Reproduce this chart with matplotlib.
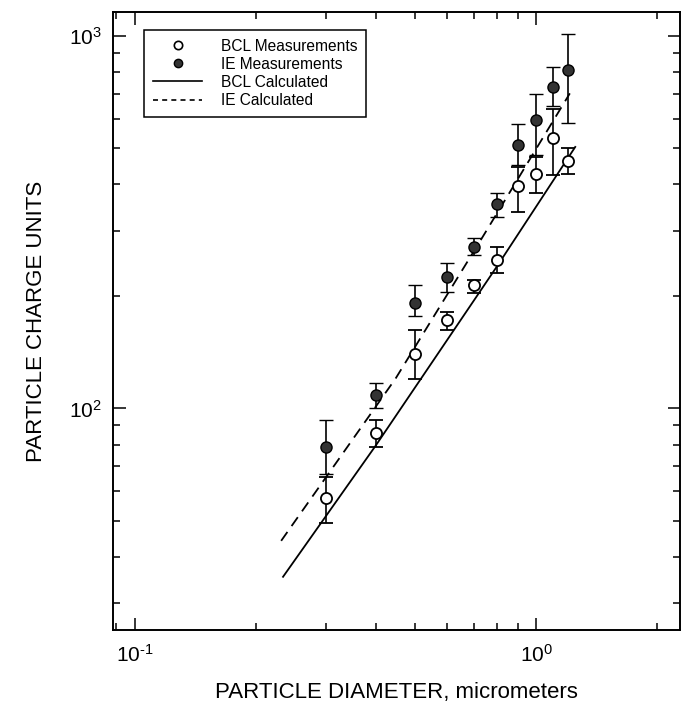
import math
import matplotlib
matplotlib.use("Agg")
import matplotlib.pyplot as plt
from matplotlib.lines import Line2D
from matplotlib.ticker import LogLocator, FuncFormatter

plt.rcParams["font.family"] = ["Liberation Sans", "DejaVu Sans"]
plt.rcParams["mathtext.fontset"] = "custom"
plt.rcParams["mathtext.rm"] = "Liberation Sans"
plt.rcParams["mathtext.it"] = "Liberation Sans"
plt.rcParams["mathtext.bf"] = "Liberation Sans"

# particle diameters (micrometers)
diam = [0.3, 0.4, 0.5, 0.6, 0.7, 0.8, 0.9, 1.0, 1.1, 1.2]

# BCL measurements with error bar ends
bcl_y = [57.5, 86, 140, 173, 214, 251, 395, 426, 534, 461]
bcl_lo = [49.3, 79, 120, 162, 204, 231, 337, 379, 425, 426]
bcl_hi = [65.6, 93, 162, 182, 221, 271, 444, 474, 639, 500]

# IE measurements with error bar ends
ie_y = [79, 109, 192, 225, 272, 354, 509, 595, 731, 810]
ie_lo = [66.7, 100, 177, 205, 258, 326, 452, 479, 651, 583]
ie_hi = [93, 117, 215, 246, 287, 380, 581, 699, 825, 1015]

# calculated curves
bcl_calc_x = [0.234, 0.398, 0.801, 1.251]
bcl_calc_y = [35.3, 79.4, 242, 504]
ie_calc_x = [0.2315, 0.4467, 0.732, 1.213]
ie_calc_y = [44.1, 120.5, 286.5, 702]


def err(y, lo, hi):
    return [[a - b for a, b in zip(y, lo)], [c - a for a, c in zip(y, hi)]]


def pow_label(v, pos):
    e = int(round(math.log10(v)))
    s = str(e).replace("-", r"\text{-}")
    return r"$10^{%s}$" % s


fig = plt.figure(figsize=(6.83, 7.11), dpi=100)
ax = fig.add_axes([0.1654, 0.1139, 0.830, 0.869])

ax.plot(bcl_calc_x, bcl_calc_y, color="black", lw=1.3)
ax.plot(ie_calc_x, ie_calc_y, color="black", lw=1.3, ls=(0, (6, 4)))

ax.errorbar(diam, bcl_y, yerr=err(bcl_y, bcl_lo, bcl_hi), fmt="o",
            mfc="white", mec="black", mew=1.3, ms=8, ecolor="black",
            elinewidth=1.2, capsize=5, capthick=1.2, zorder=3)
ax.errorbar(diam, ie_y, yerr=err(ie_y, ie_lo, ie_hi), fmt="o",
            mfc="#333333", mec="black", mew=1.0, ms=8, ecolor="black",
            elinewidth=1.2, capsize=5, capthick=1.2, zorder=3)

ax.set_xscale("log")
ax.set_yscale("log")
ax.set_xlim(0.0882, 2.28)
ax.set_ylim(25.4, 1160)

ax.xaxis.set_major_locator(LogLocator(base=10))
ax.yaxis.set_major_locator(LogLocator(base=10))
ax.xaxis.set_major_formatter(FuncFormatter(pow_label))
ax.yaxis.set_major_formatter(FuncFormatter(pow_label))
ax.tick_params(which="both", direction="in", top=True, right=True,
               width=1.1, labelsize=15)
ax.tick_params(which="major", length=9, pad=10)
ax.tick_params(which="minor", length=5)
ax.tick_params(axis="y", which="major", pad=8)
for s in ax.spines.values():
    s.set_linewidth(1.4)

ax.set_xlabel("PARTICLE DIAMETER, micrometers", fontsize=16, labelpad=12)
ax.set_ylabel("PARTICLE CHARGE UNITS", fontsize=16, labelpad=16)

# legend shows plain markers and lines
handles = [
    Line2D([], [], ls="none", marker="o", ms=6, mfc="white", mec="black", mew=1.2),
    Line2D([], [], ls="none", marker="o", ms=6, mfc="#333333", mec="black"),
    Line2D([], [], color="black", lw=1.2),
    Line2D([], [], color="black", lw=1.2, ls=(0, (3, 2.5))),
]
labels = ["BCL Measurements", "IE Measurements", "BCL Calculated", "IE Calculated"]
leg = ax.legend(handles, labels, loc="upper left", bbox_to_anchor=(0.055, 0.971),
                borderaxespad=0, fontsize=11.2, handlelength=3.2,
                handletextpad=1.2, labelspacing=0.2, borderpad=0.55,
                fancybox=False, edgecolor="black", framealpha=1)
leg.get_frame().set_linewidth(1.1)

fig.savefig("out.png", dpi=100)
